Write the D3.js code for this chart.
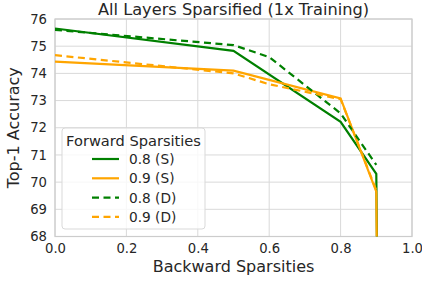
<!DOCTYPE html>
<html>
<head>
<meta charset="utf-8">
<script src="https://cdn.jsdelivr.net/npm/d3@7"></script>
<style>
  body { margin: 0; background: #fff; }
  text { font-family: "DejaVu Sans", sans-serif; fill: #262626; }
</style>
</head>
<body>
<div id="chart"></div>
<script>
let width = 422;
let height = 281;
let margin = { top: 19, right: 10, bottom: 44.5, left: 55 };

// backward sparsity (x) and top-1 accuracy (y) per series
const xGreenS = [0, 0.5, 0.8, 0.9, 0.95];
const yGreenS = [75.65, 74.83, 72.22, 70.3, 0.1];
const xOrangeS = [0, 0.5, 0.8, 0.9, 0.95];
const yOrangeS = [74.43, 74.1, 73.08, 69.65, 0.1];
const xGreenD = [0, 0.5, 0.6, 0.8, 0.9];
const yGreenD = [75.6, 75.04, 74.6, 72.53, 70.63];
const xOrangeD = [0, 0.5, 0.6, 0.8, 0.9];
const yOrangeD = [74.67, 74.0, 73.6, 73.05, 69.7];

const seriesNames = ['0.8 (S)', '0.9 (S)', '0.8 (D)', '0.9 (D)'];
const xTicks = [0, 0.2, 0.4, 0.6, 0.8, 1.0];
const yTicks = [68, 69, 70, 71, 72, 73, 74, 75, 76];

const series = [
    { name: seriesNames[0], xs: xGreenS, ys: yGreenS, color: '#008000', dash: null },
    { name: seriesNames[1], xs: xOrangeS, ys: yOrangeS, color: '#ffa500', dash: null },
    { name: seriesNames[2], xs: xGreenD, ys: yGreenD, color: '#008000', dash: '7,4.5' },
    { name: seriesNames[3], xs: xOrangeD, ys: yOrangeD, color: '#ffa500', dash: '7,4.5' }
];

let svg = d3.select('#chart')
            .append('svg')
            .attr('width', width)
            .attr('height', height);

let x = d3.scaleLinear().domain([0, 1]).range([margin.left, width - margin.right]);
let y = d3.scaleLinear().domain([68, 76]).range([height - margin.bottom, margin.top]);

svg.append('defs').append('clipPath').attr('id', 'clip')
    .append('rect')
    .attr('x', margin.left).attr('y', margin.top)
    .attr('width', width - margin.left - margin.right)
    .attr('height', height - margin.top - margin.bottom);

// grid
let grid = svg.append('g').attr('class', 'grid');
grid.selectAll('line.v').data(xTicks).enter().append('line')
    .attr('x1', d => x(d)).attr('x2', d => x(d))
    .attr('y1', margin.top).attr('y2', height - margin.bottom)
    .attr('stroke', '#d9d9d9').attr('stroke-width', 1);
grid.selectAll('line.h').data(yTicks).enter().append('line')
    .attr('y1', d => y(d)).attr('y2', d => y(d))
    .attr('x1', margin.left).attr('x2', width - margin.right)
    .attr('stroke', '#d9d9d9').attr('stroke-width', 1);

// frame
svg.append('rect')
    .attr('x', margin.left).attr('y', margin.top)
    .attr('width', width - margin.left - margin.right)
    .attr('height', height - margin.top - margin.bottom)
    .attr('fill', 'none').attr('stroke', '#cccccc').attr('stroke-width', 1.2);

// axes
let xAxis = svg.append('g')
    .attr('transform', 'translate(0,' + (height - margin.bottom) + ')')
    .call(d3.axisBottom(x).tickValues(xTicks).tickFormat(d3.format('.1f')).tickSize(0).tickPadding(7));
let yAxis = svg.append('g')
    .attr('transform', 'translate(' + margin.left + ',0)')
    .call(d3.axisLeft(y).tickValues(yTicks).tickFormat(d3.format('d')).tickSize(0).tickPadding(8));
svg.selectAll('.domain').remove();
svg.selectAll('.tick text').style('font-size', '13.2px').style('font-family', '"DejaVu Sans", sans-serif').attr('fill', '#262626');

// lines
let line = d3.line().x(d => x(d[0])).y(d => y(d[1]));
svg.append('g').attr('clip-path', 'url(#clip)')
    .selectAll('path')
    .data(series)
    .enter()
    .append('path')
    .attr('d', d => line(d.xs.map((v, i) => [v, d.ys[i]])))
    .attr('fill', 'none')
    .attr('stroke', d => d.color)
    .attr('stroke-width', 2.2)
    .attr('stroke-dasharray', d => d.dash);

// labels
svg.append('text')
    .attr('x', (margin.left + width - margin.right) / 2).attr('y', 14.5)
    .attr('text-anchor', 'middle').style('font-size', '16.2px')
    .text('All Layers Sparsified (1x Training)');
svg.append('text')
    .attr('x', (margin.left + width - margin.right) / 2).attr('y', 272)
    .attr('text-anchor', 'middle').style('font-size', '16px')
    .text('Backward Sparsities');
svg.append('text')
    .attr('transform', 'translate(19,' + ((margin.top + height - margin.bottom) / 2) + ') rotate(-90)')
    .attr('text-anchor', 'middle').style('font-size', '16px')
    .text('Top-1 Accuracy');

// legend
let legend = svg.append('g').attr('transform', 'translate(62,128)');
legend.append('rect')
    .attr('width', 143).attr('height', 101).attr('rx', 3)
    .attr('fill', 'rgba(255,255,255,0.8)').attr('stroke', '#d9d9d9');
legend.append('text').attr('x', 71.5).attr('y', 17.5).attr('text-anchor', 'middle')
    .style('font-size', '14.6px').text('Forward Sparsities');
let items = legend.selectAll('g.item').data(series).enter().append('g')
    .attr('transform', (d, i) => 'translate(0,' + (31 + i * 19.3) + ')');
items.append('line')
    .attr('x1', 30).attr('x2', 57)
    .attr('stroke', d => d.color).attr('stroke-width', 2.2)
    .attr('stroke-dasharray', d => d.dash);
items.append('text').attr('x', 67).attr('y', 5)
    .style('font-size', '13.7px').text(d => d.name);
</script>
</body>
</html>
